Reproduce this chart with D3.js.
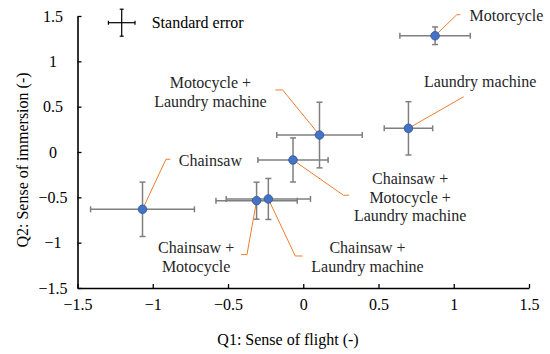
<!DOCTYPE html>
<html>
<head>
<meta charset="utf-8">
<script src="https://cdn.jsdelivr.net/npm/d3@7"></script>
<style>
  body { margin: 0; background: #fff; }
</style>
</head>
<body>
<svg></svg>
<script>
const width = 550;
const height = 354;
const serif = '"Liberation Serif", "Times New Roman", serif';

// conditions, means and standard errors
const names = ['Motorcycle', 'Laundry machine', 'Motocycle + Laundry machine', 'Chainsaw',
  'Chainsaw + Motocycle + Laundry machine', 'Chainsaw + Laundry machine', 'Chainsaw + Motocycle'];
const flight = [0.876, 0.699, 0.108, -1.068, -0.068, -0.232, -0.31];
const immersion = [1.282, 0.261, 0.187, -0.632, -0.088, -0.518, -0.537];
const flightErr = [0.234, 0.161, 0.284, 0.345, 0.233, 0.28, 0.27];
const immersionErr = [0.097, 0.294, 0.362, 0.30, 0.243, 0.226, 0.204];
const tickValues = [-1.5, -1, -0.5, 0, 0.5, 1, 1.5];

// label text lines, in the same order as names
const labelLines = [
  ['Motorcycle'],
  ['Laundry machine'],
  ['Motocycle +', 'Laundry machine'],
  ['Chainsaw'],
  ['Chainsaw +', 'Motocycle +', 'Laundry machine'],
  ['Chainsaw +', 'Laundry machine'],
  ['Chainsaw +', 'Motocycle']
];
// label placement in data units: text centre, leader elbow, hook end
const labelPos = [
  { tx: 1.35, ty: 1.51, ex: 1.02, ey: 1.514, hx: 1.044 },
  { tx: 1.175, ty: 0.775, ex: 1.066, ey: 0.61, hx: 1.066 },
  { tx: -0.617, ty: 0.66, ex: -0.137, ey: 0.684, hx: -0.186 },
  { tx: -0.617, ty: -0.096, ex: -0.912, ey: -0.08, hx: -0.883 },
  { tx: 0.71, ty: -0.496, ex: 0.267, ey: -0.477, hx: 0.305 },
  { tx: 0.427, ty: -1.158, ex: -0.053, ey: -1.147, hx: -0.005 },
  { tx: -0.712, ty: -1.158, ex: -0.374, ey: -1.132, hx: -0.413 }
];

const svg = d3.select('svg')
  .attr('width', width)
  .attr('height', height)
  .attr('font-family', serif);

const x = d3.scaleLinear().domain([-1.5, 1.5]).range([77.5, 529]);
const y = d3.scaleLinear().domain([-1.5, 1.5]).range([288, 16]);
const fmt = d3.format('');

const xAxis = svg.append('g')
  .attr('transform', `translate(0, ${y(-1.5)})`)
  .call(d3.axisBottom(x).tickValues(tickValues).tickFormat(fmt).tickSizeInner(-4).tickSizeOuter(0).tickPadding(11));

const yAxis = svg.append('g')
  .attr('transform', `translate(${x(-1.5)}, 0)`)
  .call(d3.axisLeft(y).tickValues(tickValues).tickFormat(fmt).tickSizeInner(-4).tickSizeOuter(0));

[xAxis, yAxis].forEach(g => {
  g.attr('font-family', serif).attr('font-size', 16);
  g.select('.domain').attr('stroke', '#000').attr('stroke-width', 1.6);
  g.selectAll('.tick line').attr('stroke', '#000').attr('stroke-width', 1.3);
  g.selectAll('.tick text').attr('fill', '#000');
});
yAxis.selectAll('.tick text')
  .attr('text-anchor', 'middle')
  .attr('x', 53 - x(-1.5));

svg.append('text')
  .attr('x', 288)
  .attr('y', 345)
  .attr('text-anchor', 'middle')
  .attr('font-family', serif)
  .attr('font-size', 16)
  .text('Q1: Sense of flight (-)');

svg.append('text')
  .attr('transform', `translate(22, 160) rotate(-90)`)
  .attr('text-anchor', 'middle')
  .attr('dy', '0.35em')
  .attr('font-family', serif)
  .attr('font-size', 16)
  .text('Q2: Sense of immersion (-)');

// leader lines
const leader = d3.line();
labelPos.forEach((p, i) => {
  svg.append('path')
    .attr('d', leader([[x(flight[i]), y(immersion[i])], [x(p.ex), y(p.ey)], [x(p.hx), y(p.ey)]]))
    .attr('fill', 'none')
    .attr('stroke', '#ED7D31')
    .attr('stroke-width', 1);
});

// error bars
const errColor = '#7f7f7f';
const cap = 3;
const drawCross = (g, cx, cy, ex, ey) => {
  const segs = [
    [x(cx - ex), y(cy), x(cx + ex), y(cy)],
    [x(cx), y(cy - ey), x(cx), y(cy + ey)],
    [x(cx - ex), y(cy) - cap, x(cx - ex), y(cy) + cap],
    [x(cx + ex), y(cy) - cap, x(cx + ex), y(cy) + cap],
    [x(cx) - cap, y(cy - ey), x(cx) + cap, y(cy - ey)],
    [x(cx) - cap, y(cy + ey), x(cx) + cap, y(cy + ey)]
  ];
  segs.forEach(s => g.append('line')
    .attr('x1', s[0]).attr('y1', s[1]).attr('x2', s[2]).attr('y2', s[3]));
};

const bars = svg.append('g')
  .attr('stroke', errColor)
  .attr('stroke-width', 1.5);
names.forEach((n, i) => drawCross(bars, flight[i], immersion[i], flightErr[i], immersionErr[i]));

svg.append('g')
  .selectAll('circle')
  .data(names)
  .join('circle')
  .attr('cx', (d, i) => x(flight[i]))
  .attr('cy', (d, i) => y(immersion[i]))
  .attr('r', 4.3)
  .attr('fill', '#4472C4')
  .attr('stroke', '#2F5597')
  .attr('stroke-width', 0.8);

// point labels
labelPos.forEach((p, i) => {
  const lines = labelLines[i];
  const lh = 18.7;
  const t = svg.append('text')
    .attr('text-anchor', 'middle')
    .attr('font-family', serif)
    .attr('font-size', 16)
    .attr('fill', '#262626');
  lines.forEach((l, j) => {
    t.append('tspan')
      .attr('x', x(p.tx))
      .attr('y', y(p.ty) + (j - (lines.length - 1) / 2) * lh)
      .attr('dy', '0.35em')
      .text(l);
  });
});

// legend: standard error
const legend = svg.append('g')
  .attr('stroke', '#000')
  .attr('stroke-width', 1.2);
const lx = 121.7, ly = 22.7;
[[lx - 13.3, ly, lx + 13.3, ly], [lx, ly - 13.5, lx, ly + 13.5],
 [lx - 13.3, ly - 2, lx - 13.3, ly + 2], [lx + 13.3, ly - 2, lx + 13.3, ly + 2],
 [lx - 2, ly - 13.5, lx + 2, ly - 13.5], [lx - 2, ly + 13.5, lx + 2, ly + 13.5]]
  .forEach(s => legend.append('line')
    .attr('x1', s[0]).attr('y1', s[1]).attr('x2', s[2]).attr('y2', s[3]));

svg.append('text')
  .attr('x', 151.7)
  .attr('y', ly)
  .attr('dy', '0.35em')
  .attr('font-family', serif)
  .attr('font-size', 16)
  .text('Standard error');
</script>
</body>
</html>
